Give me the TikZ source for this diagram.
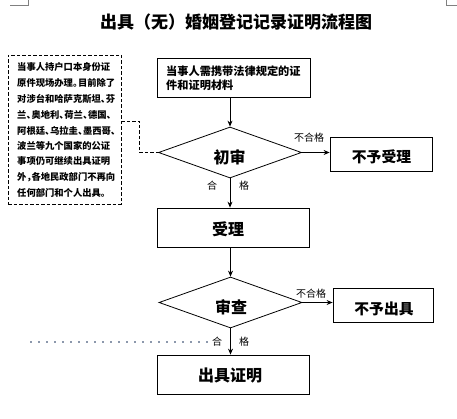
\documentclass[tikz,border=0pt]{standalone}
\usepackage{fontspec}
\setmainfont{Noto Sans CJK SC}
\usetikzlibrary{shapes.geometric,arrows.meta}
\definecolor{dotgray}{RGB}{140,152,172}
\newcommand\cjkpunct[1]{\makebox[5pt][l]{#1}}
\begin{document}
\begin{tikzpicture}[x=1pt,y=-1pt,
  box/.style={draw,line width=0.8pt,inner sep=0pt,anchor=center},
  dia/.style={draw,diamond,line width=0.8pt,inner sep=0pt,minimum width=143pt,minimum height=51pt},
  arr/.style={line width=0.8pt,-{Stealth[length=6pt,width=5pt]}},
  big/.style={font=\fontsize{16}{16}\selectfont\bfseries,inner sep=0pt},
  mid/.style={font=\fontsize{14.8}{15}\selectfont\bfseries,inner sep=0pt},
  note/.style={font=\fontsize{9.3}{10}\selectfont\bfseries,inner sep=0pt,anchor=west},
  req/.style={font=\fontsize{11.2}{12}\selectfont\bfseries,inner sep=0pt,anchor=west},
  lab/.style={font=\fontsize{10}{10}\selectfont,inner sep=0pt},
  crop/.style={draw=gray,line width=0.6pt},
  dashline/.style={line width=0.8pt,dash pattern=on 3.5pt off 2pt},
]
\path[use as bounding box,fill=white] (0,0) rectangle (457,419);

% crop marks
\draw[crop] (10,5) -- (28,5) -- (28,0);
\draw[crop] (457,5) -- (446,5) -- (446,0);

% title
\node[font=\fontsize{17}{17}\selectfont\bfseries,inner sep=0pt] (title) at (236,22) {出具（无）婚姻登记记录证明流程图};

% left note box
\node[box,dashline,minimum width=113pt,minimum height=149pt] (lbox) at (64.5,129.5) {};
\node[note] (n1) at (17,67) {当事人持户口本身份证};
\node[note] (n2) at (17,83) {原件现场办理\cjkpunct{。}目前除了};
\node[note] (n3) at (17,99) {对涉台和哈萨克斯坦\cjkpunct{、}芬};
\node[note] (n4) at (17,115) {兰\cjkpunct{、}奥地利\cjkpunct{、}荷兰\cjkpunct{、}德国\cjkpunct{、}};
\node[note] (n5) at (17,131) {阿根廷\cjkpunct{、}乌拉圭\cjkpunct{、}墨西哥\cjkpunct{、}};
\node[note] (n6) at (17,146) {波兰等九个国家的公证};
\node[note] (n7) at (17,161) {事项仍可继续出具证明};
\node[note] (n8) at (17,177) {外\cjkpunct{，}各地民政部门不再向};
\node[note] (n9) at (17,193) {任何部门和个人出具\cjkpunct{。}};

% top box
\node[box,minimum width=153pt,minimum height=39pt] (b0) at (233.5,77.5) {};
\node[req] (b0a) at (166,71) {当事人需携带法律规定的证};
\node[req] (b0b) at (166,85) {件和证明材料};

% first decision
\node[dia] (d1) at (230,152.5) {};
\node[big] (d1t) at (229.5,157) {初审};
\node[box,minimum width=102pt,minimum height=34pt] (r1) at (381,154) {};
\node[mid] (r1t) at (381.5,156.5) {不予受理};
\node[lab] (f1) at (309,138) {不合格};
\node[lab] (p1a) at (212,186) {合};
\node[lab] (p1b) at (244,186) {格};

% accept
\node[box,minimum width=152pt,minimum height=39pt] (b1) at (233,227.5) {};
\node[big] (b1t) at (228,229.5) {受理};

% second decision
\node[dia] (d2) at (230.5,302.5) {};
\node[big] (d2t) at (231,307) {审查};
\node[box,minimum width=100pt,minimum height=34pt] (r2) at (383,305) {};
\node[mid] (r2t) at (384,308.5) {不予出具};
\node[lab] (f2) at (311,294) {不合格};
\node[lab] (p2a) at (217,342) {合};
\node[lab] (p2b) at (244,342) {格};

% certificate
\node[box,minimum width=152pt,minimum height=39pt] (b2) at (233,374.5) {};
\node[big] (b2t) at (230,375.5) {出具证明};

% dotted line
\coordinate (dotA) at (30,342);
\coordinate (dotB) at (208,342);
\draw[color=dotgray,line width=1.8pt,dash pattern=on 1.8pt off 6.2pt] (dotA) -- (dotB);

% connectors
\draw[arr] (d1.north |- b0.south) -- (d1.north);
\draw[arr] (d1.east) -- (r1.west |- d1.east);
\draw[arr] (d1.south) -- (d1.south |- b1.north);
\draw[arr] (d2.north |- b1.south) -- (d2.north);
\draw[arr] (d2.east) -- (r2.west |- d2.east);
\draw[arr] (d2.south) -- (d2.south |- b2.north);
\draw[dashline] ([yshift=8.5pt]lbox.east) -- ++(18,0) |- (d1.west);
\end{tikzpicture}
\end{document}
